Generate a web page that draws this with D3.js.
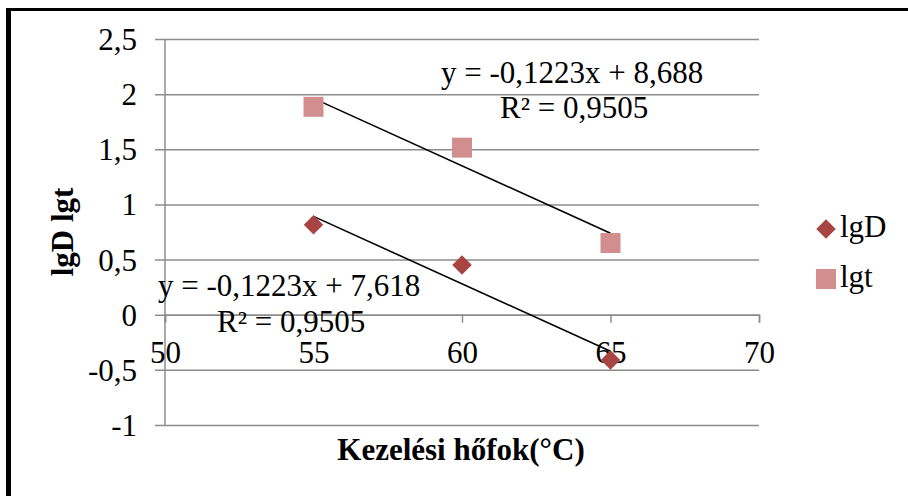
<!DOCTYPE html>
<html><head><meta charset="utf-8">
<script src="https://cdn.jsdelivr.net/npm/d3@7"></script>
<style>html,body{margin:0;padding:0;background:#fff;}svg{display:block;}</style>
</head><body>
<svg id="c" width="908" height="496"></svg>
<script>
const temps = [55, 60, 65];
const lgD = [0.815, 0.45, -0.41];
const lgt = [1.885, 1.515, 0.65];
const yTicks = [-1, -0.5, 0, 0.5, 1, 1.5, 2, 2.5];
const xTicks = [50, 55, 60, 65, 70];
const trendD = {slope: -0.1223, intercept: 7.618, r2: "0,9505"};
const trendT = {slope: -0.1223, intercept: 8.688, r2: "0,9505"};
const seriesNames = ["lgD", "lgt"];
const xTitle = "Kezelési hőfok(°C)";
const yTitle = "lgD lgt";

const svg = d3.select("#c");
const FONT = "'Liberation Serif','Times New Roman',serif";
const fmt = v => String(v).replace(".", ",");

// outer frame (top and left only visible)
svg.append("rect").attr("x", 0).attr("y", 0).attr("width", 908).attr("height", 496).attr("fill", "#fff");
svg.append("line").attr("x1", 6).attr("x2", 908).attr("y1", 9.5).attr("y2", 9.5).attr("stroke", "#000").attr("stroke-width", 3);
svg.append("line").attr("x1", 8.5).attr("x2", 8.5).attr("y1", 8).attr("y2", 496).attr("stroke", "#000").attr("stroke-width", 5);

const x = d3.scaleLinear().domain([50, 70]).range([165, 759]);
const y = d3.scaleLinear().domain([-1, 2.5]).range([425, 39]);
const grid = "#8c8c8c";

// horizontal gridlines + y axis labels
const yAxis = d3.axisLeft(y).tickValues(yTicks).tickSize(0).tickFormat(fmt);
const gy = svg.append("g").attr("transform", `translate(${x(50)},0)`).call(yAxis);
gy.select(".domain").remove();
gy.selectAll(".tick line").remove();
gy.selectAll(".tick").append("line")
  .attr("x1", -10).attr("x2", x(70) - x(50)).attr("y1", 0).attr("y2", 0)
  .attr("stroke", grid).attr("stroke-width", 1.5);
gy.selectAll(".tick text").attr("x", -28).attr("dy", "0.34em")
  .attr("font-family", FONT).attr("font-size", 31).attr("fill", "#000");

// y axis line
svg.append("line").attr("x1", x(50)).attr("x2", x(50)).attr("y1", y(2.5)).attr("y2", y(-1))
  .attr("stroke", grid).attr("stroke-width", 1.5);

// x axis at y=0
const xAxis = d3.axisBottom(x).tickValues(xTicks).tickSize(8).tickFormat(d => d);
const gx = svg.append("g").attr("transform", `translate(0,${y(0)})`).call(xAxis);
gx.select(".domain").attr("stroke", grid).attr("stroke-width", 1.5);
gx.selectAll(".tick line").attr("stroke", grid).attr("stroke-width", 1.5);
gx.selectAll(".tick text").attr("y", 48).attr("dy", 0)
  .attr("font-family", FONT).attr("font-size", 31).attr("fill", "#000");

// trendlines
function trend(t) {
  return [{x: temps[0], y: t.intercept + t.slope * temps[0]}, {x: temps[temps.length - 1], y: t.intercept + t.slope * temps[temps.length - 1]}];
}
const line = d3.line().x(d => x(d.x)).y(d => y(d.y));
[trendT, trendD].forEach(t => {
  svg.append("path").attr("d", line(trend(t))).attr("stroke", "#000").attr("stroke-width", 1.6).attr("fill", "none");
});

const colD = "#A84442", colT = "#D28D8F";
const diamond = d3.symbol().type(d3.symbolSquare).size(190);
const square = d3.symbol().type(d3.symbolSquare).size(400);

svg.append("g").selectAll("path").data(temps.map((t, i) => ({t, v: lgD[i]}))).join("path")
  .attr("d", diamond).attr("fill", colD)
  .attr("transform", d => `translate(${x(d.t)},${y(d.v)}) rotate(45)`);
svg.append("g").selectAll("path").data(temps.map((t, i) => ({t, v: lgt[i]}))).join("path")
  .attr("d", square).attr("fill", colT)
  .attr("transform", d => `translate(${x(d.t)},${y(d.v)})`);

// equation labels
const eq = t => `y = ${fmt(t.slope)}x + ${fmt(t.intercept)}`;
function addText(txt, px, py, opts = {}) {
  return svg.append("text").attr("x", px).attr("y", py).text(txt)
    .attr("font-family", FONT).attr("font-size", opts.size || 31)
    .attr("font-weight", opts.bold ? "bold" : "normal")
    .attr("text-anchor", opts.anchor || "start").attr("fill", "#000");
}
addText(eq(trendT), 441, 83);
addText("R² = " + trendT.r2, 500, 118);
addText(eq(trendD), 158, 296);
addText("R² = " + trendD.r2, 217, 332);

// legend
svg.append("path").attr("d", diamond).attr("fill", colD).attr("transform", "translate(826,229) rotate(45)");
addText(seriesNames[0], 840, 237);
svg.append("path").attr("d", square).attr("fill", colT).attr("transform", "translate(826,279)");
addText(seriesNames[1], 840, 287);

// axis titles
addText(xTitle, 461, 460, {bold: true, anchor: "middle"});
svg.append("text").attr("transform", "translate(73,232) rotate(-90)").text(yTitle)
  .attr("font-family", FONT).attr("font-size", 31).attr("font-weight", "bold")
  .attr("text-anchor", "middle").attr("fill", "#000");
</script>
</body></html>
